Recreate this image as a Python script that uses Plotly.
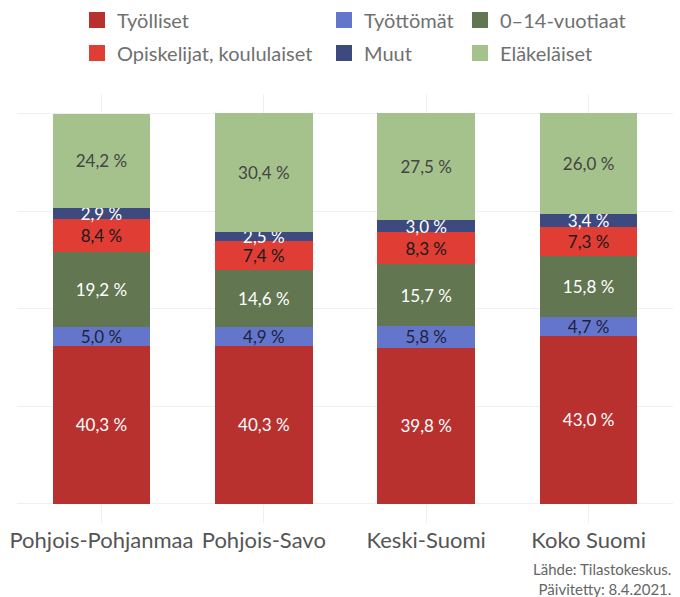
import plotly.graph_objects as go

regions = ["Pohjois-Pohjanmaa", "Pohjois-Savo", "Keski-Suomi", "Koko Suomi"]

tyolliset = [40.3, 40.3, 39.8, 43.0]
tyottomat = [5.0, 4.9, 5.8, 4.7]
lapset = [19.2, 14.6, 15.7, 15.8]
opiskelijat = [8.4, 7.4, 8.3, 7.3]
muut = [2.9, 2.5, 3.0, 3.4]
elakelaiset = [24.2, 30.4, 27.5, 26.0]

series = [
    ("Työlliset", tyolliset, "#B8312E", "#FFFFFF"),
    ("Työttömät", tyottomat, "#6476CB", "#1E2240"),
    ("0–14-vuotiaat", lapset, "#637652", "#FFFFFF"),
    ("Opiskelijat, koululaiset", opiskelijat, "#E03D35", "#1A1A1A"),
    ("Muut", muut, "#3D4A80", "#FFFFFF"),
    ("Eläkeläiset", elakelaiset, "#A5C28C", "#444444"),
]

FONT = "Lato"

def fmt(v):
    return f"{v:.1f}".replace(".", ",") + " %"

fig = go.Figure()
for name, vals, color, tcolor in series:
    fig.add_trace(go.Bar(
        x=regions, y=vals, name=name, marker_color=color,
        marker_line_width=0, width=0.6,
        text=[fmt(v) for v in vals], textposition="inside",
        insidetextanchor="middle", textangle=0, constraintext="none",
        textfont=dict(family=FONT, size=17, color=tcolor),
        showlegend=False,
    ))

# legend entries (3 columns x 2 rows)
legend_pos = {
    "Työlliset": (77, 20),
    "Opiskelijat, koululaiset": (77, 53),
    "Työttömät": (324, 20),
    "Muut": (324, 53),
    "0–14-vuotiaat": (460, 20),
    "Eläkeläiset": (460, 53),
}
W, H = 680, 597
layout_legends = {}
for i, (name, vals, color, tcolor) in enumerate(series):
    key = "legend" if i == 0 else f"legend{i+1}"
    fig.add_trace(go.Scatter(
        x=[regions[0]], y=[None], mode="markers", name=name,
        marker=dict(symbol="square", size=16, color=color),
        legend=key, showlegend=True, hoverinfo="skip",
    ))
    px_, py_ = legend_pos[name]
    layout_legends[key] = dict(
        xref="container", yref="container",
        x=px_ / W, y=1 - py_ / H, xanchor="left", yanchor="middle",
        font=dict(family=FONT, size=20, color="#707070"),
        bgcolor="rgba(0,0,0,0)", itemsizing="trace",
    )

fig.update_layout(
    width=W, height=H,
    barmode="stack",
    plot_bgcolor="white", paper_bgcolor="white",
    margin=dict(l=17, r=7, t=94, b=74, autoexpand=False),
    font=dict(family=FONT, color="#555555"),
    **layout_legends,
)
fig.update_xaxes(
    type="category", categoryorder="array", categoryarray=regions,
    range=[-0.52, 3.52], showgrid=True, gridcolor="#F0F0F0", gridwidth=1,
    tickfont=dict(family=FONT, size=22, color="#555555"),
    showline=False, zeroline=False, ticks="", automargin=False,
    ticklabelstandoff=2,
)
fig.update_yaxes(
    range=[-5, 105], tickvals=[0, 25, 50, 75, 100], showticklabels=False,
    showgrid=True, gridcolor="#F0F0F0", gridwidth=1, zeroline=False,
    automargin=False,
)
fig.add_annotation(
    xref="paper", yref="paper", x=1, y=-0.082, xanchor="right", yanchor="top",
    text="Lähde: Tilastokeskus.<br>Päivitetty: 8.4.2021.", align="right",
    showarrow=False, font=dict(family=FONT, size=15, color="#666666"),
)
fig.update_layout(uniformtext=dict(minsize=17, mode="show"))

fig.write_html("out.html", post_script="document.body.style.margin='0';",
               config={"displayModeBar": False})
